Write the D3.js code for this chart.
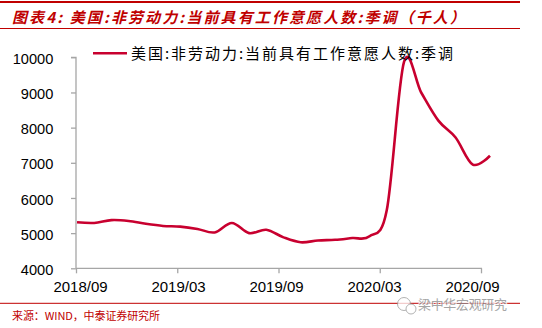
<!DOCTYPE html>
<html><head><meta charset="utf-8">
<script src="https://cdn.jsdelivr.net/npm/d3@7/dist/d3.min.js"></script>
<style>
html,body{margin:0;padding:0;background:#fff;}
svg{display:block;}
</style></head>
<body>
<svg id="chart" width="542" height="328"></svg>
<script>
// ---- data ----
const months = ["2018/09","2018/10","2018/11","2018/12","2019/01","2019/02","2019/03","2019/04","2019/05","2019/06","2019/07","2019/08","2019/09","2019/10","2019/11","2019/12","2020/01","2020/02","2020/03","2020/04","2020/05","2020/06","2020/07","2020/08","2020/09"];
const values = [5310,5290,5370,5345,5265,5205,5185,5120,5020,5290,5000,5095,4880,4740,4790,4810,4860,4910,5650,9860,9000,8200,7720,6950,7200];
const yTicks = [4000,5000,6000,7000,8000,9000,10000];
const xTickLabels = ["2018/09","2019/03","2019/09","2020/03","2020/09"];
const seriesName = "美国:非劳动力:当前具有工作意愿人数:季调";
const titleText = "图表4:  美国:非劳动力:当前具有工作意愿人数:季调（千人）";
const sourceText = "来源：WIND，中泰证券研究所";
const watermarkText = "梁中华宏观研究";

const svg = d3.select("#chart");
const red = "#c00000";
const lineColor = "#c8002f";
const axisColor = "#a6a6a6";

// header rules and title
svg.append("line").attr("x1",0).attr("x2",520).attr("y1",2).attr("y2",2).attr("stroke",red).attr("stroke-width",2);
svg.append("line").attr("x1",0).attr("x2",520).attr("y1",28.5).attr("y2",28.5).attr("stroke",red).attr("stroke-width",1);
svg.append("text").attr("x",12).attr("y",23)
  .attr("font-family","'Noto Sans CJK SC'").attr("font-size",15).attr("font-weight","bold")
  .attr("font-style","italic").attr("fill",red)
  .attr("textLength",453).attr("lengthAdjust","spacing")
  .text(titleText);

// scales
const x = d3.scaleLinear().domain([0, months.length-1]).range([77, 490]);
const y = d3.scaleLinear().domain([4000,10000]).range([268.3, 57.3]);
const xTick = d3.scalePoint().domain(xTickLabels).range([76, 481]);
const xLab = d3.scalePoint().domain(xTickLabels).range([80.5, 472.5]);

// y axis
const yAxis = svg.append("g").attr("transform","translate(76,0)")
  .call(d3.axisLeft(y).tickValues(yTicks).tickSize(5).tickPadding(18).tickFormat(d3.format("d")));
yAxis.select(".domain").attr("stroke",axisColor).attr("stroke-width",1.3).attr("d","M-5,57.3H0V268.3");
yAxis.selectAll(".tick line").attr("stroke",axisColor).attr("stroke-width",1.3);
yAxis.selectAll(".tick text").attr("font-family","'Liberation Sans', Arial, sans-serif")
  .attr("font-size",14.6).attr("fill","#000").attr("dy","0.42em").attr("x",-22.7);

// x axis
const xAxis = svg.append("g").attr("transform","translate(0,268.3)")
  .call(d3.axisBottom(xTick).tickSize(5).tickFormat(""));
xAxis.select(".domain").attr("stroke",axisColor).attr("stroke-width",1.3).attr("d","M76,0H482");
xAxis.selectAll(".tick line").attr("stroke",axisColor).attr("stroke-width",1.3);
svg.append("g").selectAll("text").data(xTickLabels).join("text")
  .attr("x", d => xLab(d)).attr("y", 292.3).attr("text-anchor","middle")
  .attr("font-family","'Liberation Sans', Arial, sans-serif").attr("font-size",15).attr("fill","#000")
  .text(d => d);

// line
const line = d3.line().x((d,i)=>x(i)).y(d=>y(d)).curve(d3.curveCatmullRom.alpha(0));
svg.append("path").datum(values).attr("d",line).attr("fill","none")
  .attr("stroke",lineColor).attr("stroke-width",2.6).attr("stroke-linejoin","round");

// legend
svg.append("line").attr("x1",93).attr("x2",127).attr("y1",53.3).attr("y2",53.3)
  .attr("stroke",lineColor).attr("stroke-width",2.6);
svg.append("text").attr("x",131).attr("y",58.5)
  .attr("font-family","'Noto Sans CJK SC'").attr("font-size",15).attr("fill","#000")
  .attr("textLength",322).attr("lengthAdjust","spacing")
  .text(seriesName);

// footer
svg.append("line").attr("x1",0).attr("x2",520).attr("y1",303.3).attr("y2",303.3).attr("stroke",red).attr("stroke-width",1);
svg.append("text").attr("x",12).attr("y",320)
  .attr("font-family","'Noto Sans CJK SC'").attr("font-size",11).attr("fill",red)
  .attr("textLength",148).attr("lengthAdjust","spacing")
  .text(sourceText);

// watermark
const wm = svg.append("g").attr("opacity",0.75);
wm.append("circle").attr("cx",404).attr("cy",304).attr("r",6.5).attr("fill","#fff").attr("stroke","#999").attr("stroke-width",1);
wm.append("circle").attr("cx",411).attr("cy",309).attr("r",5).attr("fill","#fff").attr("stroke","#999").attr("stroke-width",1);
wm.append("text").attr("x",418).attr("y",309)
  .attr("font-family","'Noto Sans CJK SC'").attr("font-size",13).attr("fill","#888")
  .attr("stroke","#fff").attr("stroke-width",2).attr("paint-order","stroke")
  .attr("textLength",89).attr("lengthAdjust","spacing")
  .text(watermarkText);
</script>
</body></html>
